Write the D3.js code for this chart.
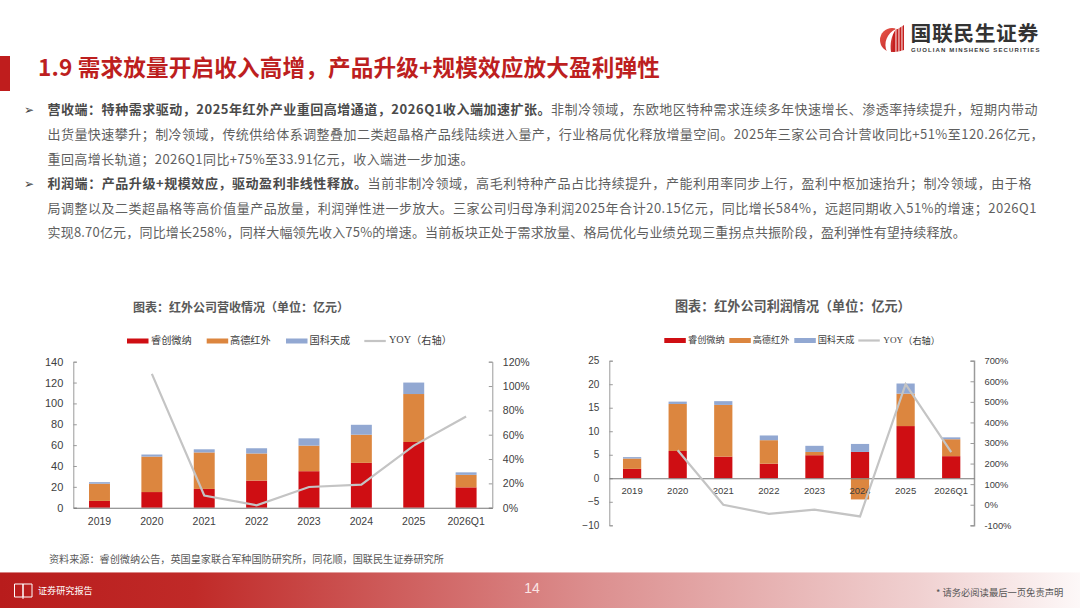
<!DOCTYPE html>
<html>
<head>
<meta charset="utf-8">
<script src="https://cdn.jsdelivr.net/npm/d3@7/dist/d3.min.js"></script>
<style>
  html, body { margin: 0; padding: 0; background: #fff; }
  svg { display: block; }
  text { font-family: "Noto Sans CJK SC", sans-serif; }
  .num text, text.num { font-family: "Liberation Sans", "Noto Sans CJK SC", sans-serif; }
</style>
</head>
<body>
<div id="page"></div>
<script>
// data
const categories = ["2019", "2020", "2021", "2022", "2023", "2024", "2025", "2026Q1"];
const seriesNames = ["睿创微纳", "高德红外", "国科天成"];
const lineName = "YOY（右轴）";

const revRaytron = [6.5, 15, 18, 26, 35, 43, 63, 19.5];
const revGuide = [16.5, 34, 35, 26, 24.5, 27, 46, 12];
const revGuoke = [1.5, 2, 3, 5, 7, 9.5, 11, 2.4];
const revYoy = [null, 110, 10, 2, 17, 19, 51, 75];
const revLeftTicks = [0, 20, 40, 60, 80, 100, 120, 140];
const revRightTicks = [0, 20, 40, 60, 80, 100, 120];

const profRaytron = [2, 5.8, 4.6, 3.1, 4.9, 5.6, 11.1, 4.7];
const profGuide = [2.2, 10, 11, 5, 0.7, -4.5, 6.9, 3.6];
const profGuoke = [0.3, 0.5, 0.8, 1, 1.3, 1.7, 2.15, 0.4];
const profYoy = [null, 265, 0, -44, -24, -57, 586, 256];
const profLeftTicks = [-10, -5, 0, 5, 10, 15, 20, 25];
const profRightTicks = [-100, 0, 100, 200, 300, 400, 500, 600, 700];

const bodyLines = [
  ["营收端：特种需求驱动，2025年红外产业重回高增通道，2026Q1收入端加速扩张。", "非制冷领域，东欧地区特种需求连续多年快速增长、渗透率持续提升，短期内带动"],
  ["", "出货量快速攀升；制冷领域，传统供给体系调整叠加二类超晶格产品线陆续进入量产，行业格局优化释放增量空间。2025年三家公司合计营收同比+51%至120.26亿元，"],
  ["", "重回高增长轨道；2026Q1同比+75%至33.91亿元，收入端进一步加速。"],
  ["利润端：产品升级+规模效应，驱动盈利非线性释放。", "当前非制冷领域，高毛利特种产品占比持续提升，产能利用率同步上行，盈利中枢加速抬升；制冷领域，由于格"],
  ["", "局调整以及二类超晶格等高价值量产品放量，利润弹性进一步放大。三家公司归母净利润2025年合计20.15亿元，同比增长584%，远超同期收入51%的增速；2026Q1"],
  ["", "实现8.70亿元，同比增长258%，同样大幅领先收入75%的增速。当前板块正处于需求放量、格局优化与业绩兑现三重拐点共振阶段，盈利弹性有望持续释放。"]
];
const bodyY = [110, 135, 160, 184, 209, 233];
const bodyEnd = [1038, 1044, 474, 1032, 1037, 966];
const bulletLines = [0, 3];

const colors = ["#cf0e13", "#dc863f", "#92a8d2"];
const lineColor = "#c4c4c4";
const axisColor = "#9a9a9a";
const textColor = "#404040";

const svg = d3.select("#page").append("svg").attr("width", 1080).attr("height", 608);
const defs = svg.append("defs");

// footer gradient
const fg = defs.append("linearGradient").attr("id", "foot");
fg.append("stop").attr("offset", "0%").attr("stop-color", "#b81c1c");
fg.append("stop").attr("offset", "18%").attr("stop-color", "#c02a28");
fg.append("stop").attr("offset", "55%").attr("stop-color", "#dc8f8f");
fg.append("stop").attr("offset", "85%").attr("stop-color", "#f0d0d0");
fg.append("stop").attr("offset", "100%").attr("stop-color", "#fdf8f8");

const lg = defs.append("linearGradient").attr("id", "logo").attr("x1", 0).attr("x2", 1).attr("y1", 0).attr("y2", 1);
lg.append("stop").attr("offset", "0%").attr("stop-color", "#ea5a4c");
lg.append("stop").attr("offset", "100%").attr("stop-color", "#b5161b");

// fit a text line to the width it has in the slide
function fitTo(t, x0, x1, n) {
  const w = t.node().getComputedTextLength();
  t.style("letter-spacing", ((x1 - x0 - w) / n) + "px");
}

// header
svg.append("rect").attr("x", 0).attr("y", 56).attr("width", 10).attr("height", 35).attr("fill", "#bf1d1d");
const titleStr = "1.9 需求放量开启收入高增，产品升级+规模效应放大盈利弹性";
const titleEl = svg.append("text").attr("x", 38).attr("y", 70).attr("fill", "#bd1f1f")
  .style("font-size", "22.6px").style("font-weight", 700).attr("dominant-baseline", "middle")
  .text(titleStr);
fitTo(titleEl, 38, 660, titleStr.length);

// logo
const logo = svg.append("g");
logo.append("circle").attr("cx", 892).attr("cy", 40).attr("r", 12).attr("fill", "url(#logo)");
logo.append("path").attr("d", "M893 52 V32 L904 25 V50 Q899 52 893 52 Z").attr("fill", "#c6201f");
[895.5, 898.5, 901.5].forEach(bx => {
  logo.append("rect").attr("x", bx).attr("y", 24).attr("width", 0.9).attr("height", 29).attr("fill", "#fff");
});
logo.append("path").attr("d", "M887 52 C883 43 887 33 896 29 C891 36 890 44 891 52 Z").attr("fill", "#fff");
svg.append("text").attr("x", 910.5).attr("y", 35.5).attr("dominant-baseline", "middle")
  .attr("fill", "#333").style("font-size", "20.8px").style("font-weight", 700).style("letter-spacing", "0.6px").text("国联民生证券");
svg.append("text").attr("class", "num").attr("x", 911).attr("y", 50).attr("dominant-baseline", "middle")
  .attr("fill", "#3a3a3a").style("font-size", "6px").style("font-weight", 700).style("letter-spacing", "1.12px")
  .text("GUOLIAN MINSHENG SECURITIES");

// body text
bodyLines.forEach((ln, i) => {
  const t = svg.append("text").attr("x", 47.5).attr("y", bodyY[i]).attr("dominant-baseline", "middle")
    .style("font-size", "13px");
  if (ln[0]) t.append("tspan").attr("fill", "#4a4a4a").style("font-weight", 700).text(ln[0]);
  t.append("tspan").attr("fill", "#5f5f5f").text(ln[1]);
  fitTo(t, 47.5, bodyEnd[i], ln[0].length + ln[1].length);
});
bulletLines.forEach(i => {
  svg.append("text").attr("x", 24).attr("y", bodyY[i]).attr("dominant-baseline", "middle")
    .attr("fill", "#444").style("font-family", "DejaVu Sans").style("font-size", "12px").text("➢");
});

function drawChart(c) {
  const g = svg.append("g");

  const x = d3.scaleBand().domain(categories).range([c.left, c.right]).paddingInner(c.pad).paddingOuter(c.pad / 2);
  const y = d3.scaleLinear().domain(c.leftDomain).range([c.bottom, c.top]);
  const y2 = d3.scaleLinear().domain(c.rightDomain).range([c.bottom, c.top]);

  const rows = categories.map((d, i) => ({cat: d, a: c.series[0][i], b: c.series[1][i], c: c.series[2][i]}));
  const stacked = d3.stack().keys(["a", "b", "c"]).offset(d3.stackOffsetDiverging)(rows);

  g.selectAll("g.layer").data(stacked).join("g").attr("class", "layer")
    .attr("fill", (d, i) => colors[i])
    .selectAll("rect").data(d => d).join("rect")
      .attr("x", d => x(d.data.cat))
      .attr("width", x.bandwidth())
      .attr("y", d => y(Math.max(d[0], d[1])))
      .attr("height", d => Math.abs(y(d[0]) - y(d[1])));

  // axes
  const left = g.append("g").attr("class", "num").attr("transform", `translate(${c.left},0)`)
    .call(d3.axisLeft(y).tickValues(c.leftTicks).tickSize(-3.5).tickPadding(c.leftPad).tickFormat(d3.format("d")));
  const right = g.append("g").attr("class", "num").attr("transform", `translate(${c.right},0)`)
    .call(d3.axisRight(y2).tickValues(c.rightTicks).tickSize(-3.5).tickPadding(c.rightPad).tickFormat(d => d + "%"));
  const bottom = g.append("g").attr("class", "num").attr("transform", `translate(0,${y(0)})`)
    .call(d3.axisBottom(x).tickSize(0).tickPadding(c.xPad));

  [left, right, bottom].forEach(a => {
    a.selectAll(".domain, .tick line").attr("stroke", axisColor);
    a.selectAll("text").attr("fill", textColor);
  });
  left.selectAll("text").style("font-size", c.leftFont + "px");
  right.selectAll("text").style("font-size", c.rightFont + "px");
  bottom.selectAll("text").style("font-size", c.xFont + "px");
  right.select(".domain").attr("stroke-width", c.rightWidth);
  bottom.select(".domain").attr("stroke-width", 1.1).attr("stroke", "#777");

  // YOY line
  const line = d3.line().defined(d => d.v !== null)
    .x(d => x(d.cat) + x.bandwidth() / 2).y(d => y2(d.v));
  g.append("path")
    .datum(categories.map((d, i) => ({cat: d, v: c.yoy[i]})))
    .attr("fill", "none").attr("stroke", lineColor).attr("stroke-width", 2.2)
    .attr("stroke-linejoin", "miter").attr("d", line);

  // title
  g.append("text").attr("x", c.titleX).attr("y", c.titleY).attr("dominant-baseline", "middle")
    .attr("fill", "#595959").style("font-size", c.titleFont + "px").style("font-weight", 700).text(c.title);

  // legend
  c.legendX.forEach((lx, i) => {
    const w = 21.5;
    if (i < 3) {
      g.append("rect").attr("x", lx).attr("y", c.legendY - 2.5).attr("width", w).attr("height", 5).attr("fill", colors[i]);
    } else {
      g.append("line").attr("x1", lx).attr("x2", lx + w).attr("y1", c.legendY).attr("y2", c.legendY)
        .attr("stroke", lineColor).attr("stroke-width", 2.2);
    }
    const lab = g.append("text").attr("x", c.legendTextX[i]).attr("y", c.legendY).attr("dominant-baseline", "middle")
      .attr("fill", textColor).style("font-size", c.legendFont + "px");
    if (i < 3) lab.text(seriesNames[i]);
    else {
      lab.append("tspan").style("font-family", "Liberation Serif").text("YOY");
      lab.append("tspan").text(lineName.slice(3));
    }
  });
}

drawChart({
  title: "图表：红外公司营收情况（单位：亿元）", titleX: 133, titleY: 309, titleFont: 12,
  series: [revRaytron, revGuide, revGuoke], yoy: revYoy,
  left: 73.3, right: 492.3, top: 361.7, bottom: 507.7, pad: 0.6,
  leftDomain: [0, 140], rightDomain: [0, 120],
  leftTicks: revLeftTicks, rightTicks: revRightTicks,
  leftPad: 10, rightPad: 10.5, xPad: 10, leftFont: 11, rightFont: 10.5, xFont: 10.5, rightWidth: 1,
  legendX: [127, 206.7, 286, 364.3], legendTextX: [151, 230, 309.5, 389], legendY: 341, legendFont: 10.2
});

drawChart({
  title: "图表：红外公司利润情况（单位：亿元）", titleX: 675, titleY: 307, titleFont: 13.1,
  series: [profRaytron, profGuide, profGuoke], yoy: profYoy,
  left: 609.3, right: 974, top: 360.7, bottom: 525.3, pad: 0.6,
  leftDomain: [-10, 25], rightDomain: [-100, 700],
  leftTicks: profLeftTicks, rightTicks: profRightTicks,
  leftPad: 10, rightPad: 10.5, xPad: 9, leftFont: 10, rightFont: 9.3, xFont: 9.5, rightWidth: 1.5,
  legendX: [664.3, 729.3, 794.3, 858.3], legendTextX: [688, 752.7, 817.7, 883.3], legendY: 340.5, legendFont: 9.2
});

// source
svg.append("text").attr("x", 49).attr("y", 560.5).attr("dominant-baseline", "middle")
  .attr("fill", "#595959").style("font-size", "10.15px")
  .text("资料来源：睿创微纳公告，英国皇家联合军种国防研究所，同花顺，国联民生证券研究所");

// footer
svg.append("rect").attr("x", 0).attr("y", 572).attr("width", 1080).attr("height", 36).attr("fill", "url(#foot)");
svg.append("rect").attr("x", 0).attr("y", 572).attr("width", 1080).attr("height", 1).attr("fill", "#fff").attr("opacity", 0.45);
svg.append("path").attr("d", "M14.5 584 H23 V597 H14.5 Z M23 584 H32 V597 H23 Z M23 597 V599")
  .attr("fill", "none").attr("stroke", "#fff").attr("stroke-width", 1);
svg.append("text").attr("x", 38).attr("y", 592).attr("dominant-baseline", "middle")
  .attr("fill", "#fff").style("font-size", "9.1px").text("证券研究报告");
svg.append("text").attr("class", "num").attr("x", 532).attr("y", 589).attr("text-anchor", "middle").attr("dominant-baseline", "middle")
  .attr("fill", "#fbe5e5").style("font-size", "14px").text("14");
svg.append("text").attr("x", 936).attr("y", 593).attr("dominant-baseline", "middle")
  .attr("fill", "#555").style("font-size", "9.3px").text("* 请务必阅读最后一页免责声明");
</script>
</body>
</html>
